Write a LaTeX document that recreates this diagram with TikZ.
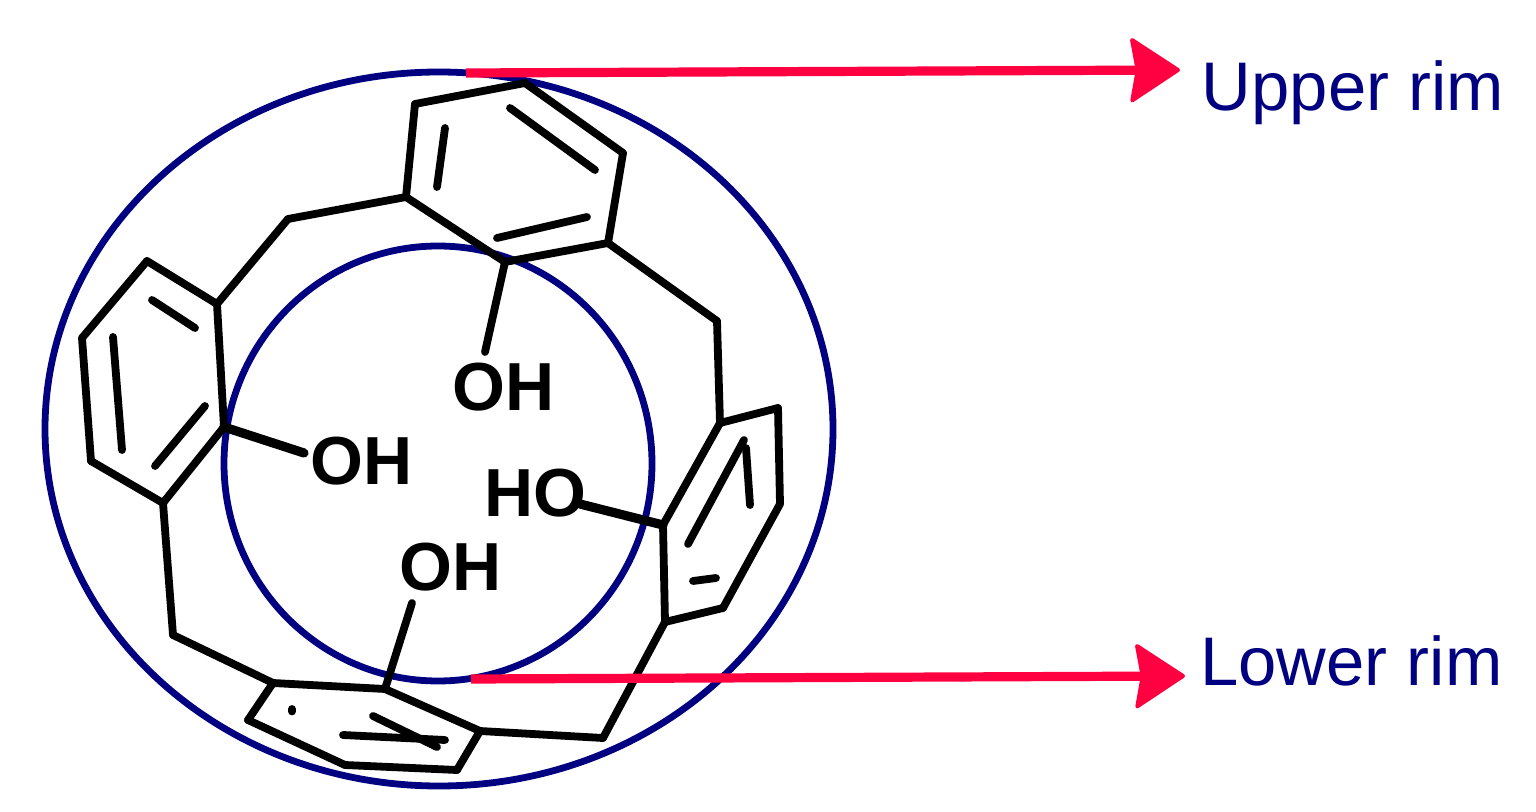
\documentclass[tikz,border=0pt]{standalone}
\usepackage{fontspec}
\setmainfont{Liberation Sans}
\usetikzlibrary{arrows.meta,shapes.geometric}
\definecolor{rimblue}{RGB}{0,0,128}
\definecolor{rimred}{RGB}{255,0,64}
\tikzset{
	bond/.style={line width=3.9pt, line cap=round, line join=round, black},
	thickbond/.style={bond, line width=4.6pt},
	rim/.style={shape=ellipse, draw=rimblue, line width=3.4pt, inner sep=0pt},
	pointer/.style={line width=4.6pt, rimred, -{Stealth[length=26pt, width=34pt, inset=3pt, round, line width=2pt]}},
	atom/.style={font=\fontsize{34}{34}\selectfont\bfseries, inner sep=0pt, anchor=base west},
	rimlabel/.style={font=\fontsize{34.4}{34.4}\selectfont, text=rimblue, inner sep=0pt, anchor=base west}
}
\begin{document}
\begin{tikzpicture}[x=0.5pt, y=-0.5pt]
			\useasboundingbox (0,0) rectangle (1536,812);
			
			\node[rim, minimum width=394pt, minimum height=357pt] (outer) at (439,429) {};
			\node[rim, minimum width=214pt, minimum height=217.5pt] (inner) at (438,463.5) {};
			
			% top ring
			\coordinate (t1) at (415,104);
			\coordinate (t2) at (525,83);
			\coordinate (t3) at (623,153);
			\coordinate (t4) at (608,243);
			\coordinate (t5) at (505,262);
			\coordinate (t6) at (406,197);
			% left ring
			\coordinate (l1) at (217,304);
			\coordinate (l2) at (147,261);
			\coordinate (l3) at (82,338);
			\coordinate (l4) at (91,461);
			\coordinate (l5) at (163,503);
			\coordinate (l6) at (224,427);
			% bottom ring
			\coordinate (b1) at (273,683);
			\coordinate (b2) at (385,689);
			\coordinate (b3) at (480,731);
			\coordinate (b4) at (457,770);
			\coordinate (b5) at (345,765);
			\coordinate (b6) at (248,720);
			% right ring
			\coordinate (r1) at (665,622);
			\coordinate (r2) at (723,608);
			\coordinate (r3) at (780,504);
			\coordinate (r4) at (778,408);
			\coordinate (r5) at (720,423);
			\coordinate (r6) at (663,525);
			% bridges
			\coordinate (tl) at (288,219);
			\coordinate (lb) at (173,635);
			\coordinate (br) at (603,738);
			\coordinate (rt) at (717,321);
			% inner double bonds
			\coordinate (d1a) at (437,187);
			\coordinate (d1b) at (445,128);
			\coordinate (d2a) at (510,108);
			\coordinate (d2b) at (595,170);
			\coordinate (d3a) at (497,238);
			\coordinate (d3b) at (587,217);
			\coordinate (d4a) at (152,300);
			\coordinate (d4b) at (195,328);
			\coordinate (d5a) at (113,337);
			\coordinate (d5b) at (122,450);
			\coordinate (d6a) at (155,466);
			\coordinate (d6b) at (205,406);
			\coordinate (d7a) at (373,716);
			\coordinate (d7b) at (437,747);
			\coordinate (d8a) at (343,735);
			\coordinate (d8b) at (445,740);
			\coordinate (d9a) at (744,440);
			\coordinate (d9b) at (688,544);
			\coordinate (d10a) at (746,448);
			\coordinate (d10b) at (750,505);
			\coordinate (d11a) at (693,581);
			\coordinate (d11b) at (716,578);
			\coordinate (d12a) at (292,709);
			\coordinate (d12b) at (292,711.5);
			
			\node[atom] (oh1) at (452,411) {OH};
			\node[atom] (oh2) at (310,484) {OH};
			\node[atom] (ho) at (484,516) {HO};
			\node[atom] (oh3) at (399,590) {OH};
			\node[rimlabel] (upper) at (1201.5,110.5) {Upper rim};
			\node[rimlabel] (lower) at (1200,685) {Lower rim};
			
			\coordinate (uppertail) at (466,73);
			\coordinate (upperhead) at (1180,70);
			\coordinate (lowertail) at (471,679);
			\coordinate (lowerhead) at (1185,676);
			\coordinate (e1) at (485,352);
			\coordinate (e2) at (304,453);
			\coordinate (e3) at (580,504);
			\coordinate (e4) at (412,603);
			
			\path [bond] (t1) edge (t2) (t2) edge (t3) (t3) edge (t4) (t4) edge (t5) (t5) edge (t6) (t6) edge (t1);
			\path [bond] (l1) edge (l2) (l2) edge (l3) (l3) edge (l4) (l4) edge (l5) (l5) edge (l6) (l6) edge (l1);
			\path [bond] (b1) edge (b2) (b2) edge (b3) (b3) edge (b4) (b4) edge (b5) (b5) edge (b6) (b6) edge (b1);
			\path [bond] (r1) edge (r2) (r2) edge (r3) (r3) edge (r4) (r4) edge (r5) (r5) edge (r6) (r6) edge (r1);
			\path [bond] (t6) edge (tl) (tl) edge (l1);
			\path [bond] (l5) edge (lb) (lb) edge (b1);
			\path [bond] (b3) edge (br) (br) edge (r1);
			\path [bond] (r5) edge (rt) (rt) edge (t4);
			\path [bond] (d1a) edge (d1b) (d2a) edge (d2b) (d3a) edge (d3b);
			\path [bond] (d4a) edge (d4b) (d5a) edge (d5b) (d6a) edge (d6b);
			\path [bond] (d7a) edge (d7b) (d8a) edge (d8b) (d12a) edge (d12b);
			\path [bond] (d9a) edge (d9b) (d10a) edge (d10b) (d11a) edge (d11b);
			\path [bond] (t5) edge (e1) (b2) edge (e4);
			\path [thickbond] (l6) edge (e2) (r6) edge (e3);
			
			\draw [pointer] (uppertail) -- (upperhead);
			\draw [pointer] (lowertail) -- (lowerhead);
		\end{tikzpicture}
\end{document}
